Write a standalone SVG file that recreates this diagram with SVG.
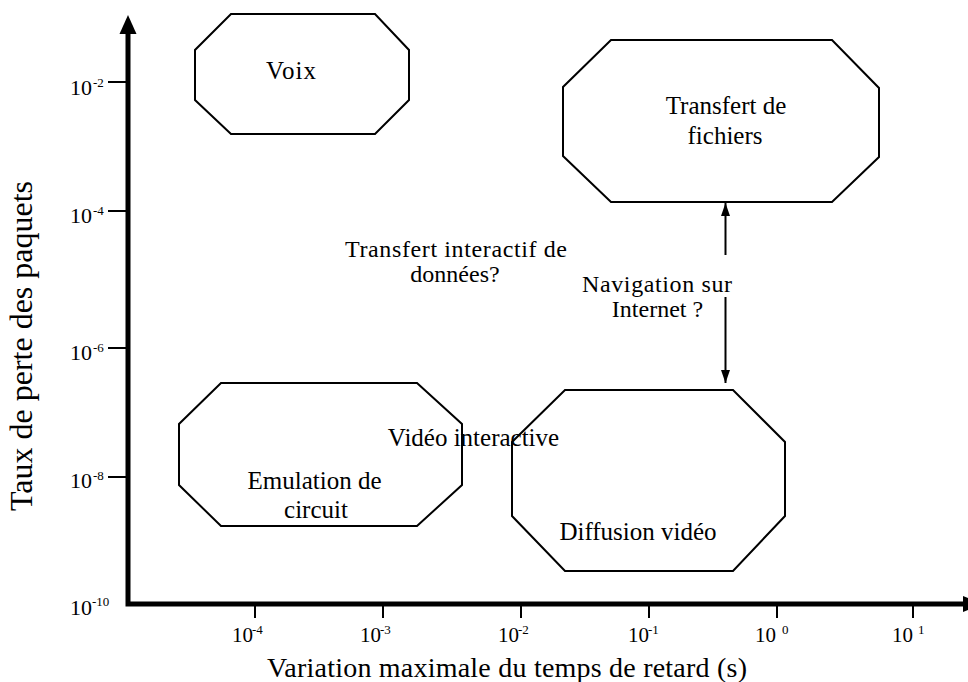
<svg xmlns="http://www.w3.org/2000/svg" width="968" height="682" viewBox="0 0 968 682">
  <style>
    text { font-family: "Liberation Serif", "Times New Roman", serif; fill: #000; }
    .lbl { font-size: 25px; text-anchor: middle; }
    .tight { font-size: 24px; }
    .oct { fill: none; stroke: #000; stroke-width: 2; stroke-linejoin: miter; }
    .tick { stroke: #000; stroke-width: 2; }
    .ynum { font-size: 22px; }
    .xnum { font-size: 21px; }
    .sup { font-size: 13px; }
    .conn { stroke: #000; stroke-width: 2; fill: none; }
  </style>
  <defs>
    <marker id="head" viewBox="0 0 13 9" refX="13" refY="4.5" markerWidth="13" markerHeight="9" markerUnits="userSpaceOnUse" orient="auto">
      <path d="M0,0 L13,4.5 L0,9 Z" fill="#000"/>
    </marker>
  </defs>
  <rect width="968" height="682" fill="#fff"/>

  <!-- axes -->
  <g id="axes">
    <path d="M128,30 V604 H966" fill="none" stroke="#000" stroke-width="5" stroke-linejoin="miter"/>
    <polygon points="128,15 119.5,34 136.5,34" fill="#000"/>
    <polygon points="963,596 982,604 963,612" fill="#000"/>
    <!-- y ticks -->
    <line class="tick" x1="108" y1="82" x2="128" y2="82"/>
    <line class="tick" x1="108" y1="211" x2="128" y2="211"/>
    <line class="tick" x1="108" y1="348" x2="128" y2="348"/>
    <line class="tick" x1="108" y1="477" x2="128" y2="477"/>
    <!-- x ticks -->
    <line class="tick" x1="255" y1="606" x2="255" y2="618"/>
    <line class="tick" x1="383" y1="606" x2="383" y2="618"/>
    <line class="tick" x1="521" y1="606" x2="521" y2="618"/>
    <line class="tick" x1="649" y1="606" x2="649" y2="618"/>
    <line class="tick" x1="777" y1="606" x2="777" y2="618"/>
    <line class="tick" x1="913" y1="606" x2="913" y2="618"/>
    <!-- y tick labels -->
    <text class="ynum" x="70" y="95">10<tspan class="sup" x="93" y="87">-2</tspan></text>
    <text class="ynum" x="70" y="223">10<tspan class="sup" x="93" y="215">-4</tspan></text>
    <text class="ynum" x="70" y="360">10<tspan class="sup" x="93" y="352">-6</tspan></text>
    <text class="ynum" x="70" y="488">10<tspan class="sup" x="93" y="480">-8</tspan></text>
    <text class="ynum" x="70" y="615">10<tspan class="sup" x="92" y="606">-10</tspan></text>
    <!-- x tick labels -->
    <text class="xnum" x="232" y="642">10<tspan class="sup" x="252" y="634">-4</tspan></text>
    <text class="xnum" x="360" y="642">10<tspan class="sup" x="380" y="634">-3</tspan></text>
    <text class="xnum" x="498" y="642">10<tspan class="sup" x="518" y="634">-2</tspan></text>
    <text class="xnum" x="628" y="642">10<tspan class="sup" x="648" y="634">-1</tspan></text>
    <text class="xnum" x="755" y="642">10<tspan class="sup" x="782" y="634">0</tspan></text>
    <text class="xnum" x="892" y="642">10<tspan class="sup" x="918" y="634">1</tspan></text>
    <!-- axis titles -->
    <text x="267" y="677" font-size="28" textLength="480" lengthAdjust="spacing">Variation maximale du temps de retard (s)</text>
    <text transform="translate(32,346) rotate(-90)" font-size="32" text-anchor="middle">Taux de perte des paquets</text>
  </g>

  <!-- application regions -->
  <g id="voix">
    <polygon class="oct" points="231,14 375,14 409,50 409,100 375,134 231,134 195,100 195,50"/>
    <text class="lbl" x="291.5" y="79" letter-spacing="1">Voix</text>
  </g>

  <g id="transfert-fichiers">
    <polygon class="oct" points="611,40 832,40 879,88 879,157 832,202 611,202 563,156 563,87"/>
    <text class="lbl" x="726" y="114">Transfert de</text>
    <text class="lbl" x="725" y="144">fichiers</text>
  </g>

  <g id="emulation-circuit">
    <polygon class="oct" points="221,383 417,383 462,424 462,485 417,526 221,526 179,485 179,424"/>
    <text class="lbl" x="314.5" y="489">Emulation de</text>
    <text class="lbl" x="316" y="518">circuit</text>
  </g>

  <g id="diffusion-video">
    <polygon class="oct" points="565,390 733,390 785,442 785,516 733,571 565,571 512,516 512,442"/>
    <text class="lbl" x="638" y="540">Diffusion vidéo</text>
  </g>

  <g id="video-interactive">
    <text class="lbl" x="473.5" y="446">Vidéo interactive</text>
  </g>

  <g id="transfert-interactif">
    <text class="lbl tight" x="456" y="257" textLength="222" lengthAdjust="spacing">Transfert interactif de</text>
    <text class="lbl tight" x="455" y="282">données?</text>
  </g>

  <g id="navigation">
    <text class="lbl tight" x="657" y="292" textLength="150" lengthAdjust="spacing">Navigation sur</text>
    <text class="lbl tight" x="657.5" y="317">Internet ?</text>
  </g>

  <!-- connectors -->
  <g id="connectors">
    <line class="conn" x1="725.5" y1="255" x2="725.5" y2="203" marker-end="url(#head)"/>
    <line class="conn" x1="725.5" y1="297" x2="725.5" y2="383" marker-end="url(#head)"/>
  </g>
</svg>
